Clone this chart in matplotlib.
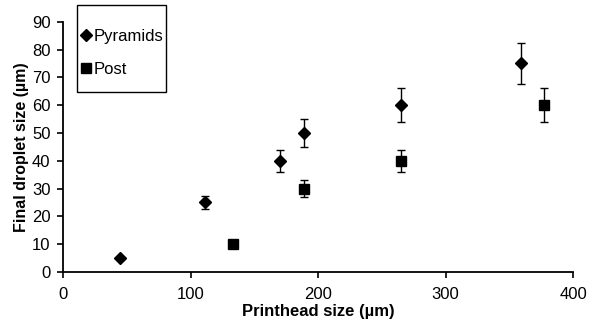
import matplotlib.pyplot as plt
from matplotlib.lines import Line2D
from matplotlib.patches import Rectangle

plt.rcParams['font.family'] = ['Liberation Sans', 'DejaVu Sans']

# Pyramids series
pyr_x = [45, 111, 170, 189, 265, 359]
pyr_y = [5, 25, 40, 50, 60, 75]
pyr_err = [0.5, 2.5, 4, 5, 6, 7.5]

# Post series
post_x = [133, 189, 265, 377]
post_y = [10, 30, 40, 60]
post_err = [1, 3, 4, 6]

x_ticks = [0, 100, 200, 300, 400]
y_ticks = [0, 10, 20, 30, 40, 50, 60, 70, 80, 90]

fig = plt.figure(figsize=(5.89, 3.2), dpi=100)
ax = fig.add_axes([0.107, 0.15, 0.866, 0.782])

ax.errorbar(pyr_x, pyr_y, yerr=pyr_err, fmt='D', color='black', ms=6.5,
            ecolor='black', elinewidth=1, capsize=3, capthick=1, label='Pyramids')
ax.errorbar(post_x, post_y, yerr=post_err, fmt='s', color='black', ms=7.5,
            ecolor='black', elinewidth=1, capsize=3, capthick=1, label='Post')

ax.set_xlim(0, 400)
ax.set_ylim(0, 90)
ax.set_xticks(x_ticks)
ax.set_yticks(y_ticks)
ax.tick_params(direction='out', length=4, width=1.2, labelsize=12)
ax.tick_params(axis='x', pad=7)
ax.tick_params(axis='y', pad=5)
for s in ['top', 'right']:
    ax.spines[s].set_visible(False)
for s in ['left', 'bottom']:
    ax.spines[s].set_linewidth(1.3)

ax.set_xlabel('Printhead size (\u00b5m)', fontsize=12, fontweight='bold', labelpad=1)
ax.set_ylabel('Final droplet size (\u00b5m)', fontsize=11.5, fontweight='bold', labelpad=2)

# legend without its own frame, box drawn separately (legend box is taller than wide padding)
handles = [Line2D([], [], marker='D', ls='none', color='black', ms=6),
           Line2D([], [], marker='s', ls='none', color='black', ms=7)]
leg = fig.legend(handles, ['Pyramids', 'Post'], loc='upper left',
                 bbox_to_anchor=(0.137, 0.909), fontsize=12, frameon=False,
                 handlelength=0.6, handletextpad=0.15, labelspacing=1.05,
                 borderpad=0, borderaxespad=0)
fig.patches.append(Rectangle((0.1307, 0.7125), 0.151, 0.272, transform=fig.transFigure,
                             fill=False, edgecolor='black', linewidth=1))

fig.savefig('out.png', dpi=100)
